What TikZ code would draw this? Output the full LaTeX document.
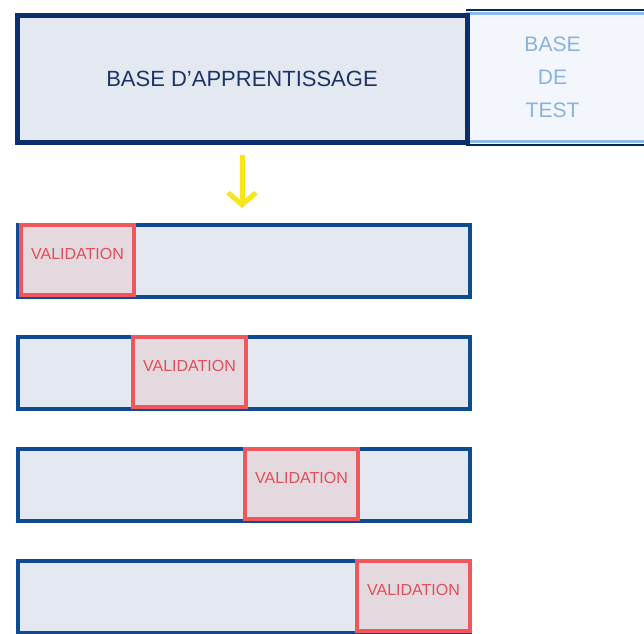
\documentclass[tikz,border=0pt]{standalone}
\usepackage{fontspec}
\setmainfont{Liberation Sans}
\usetikzlibrary{arrows.meta}
\definecolor{learnborder}{HTML}{0A2F6C}
\definecolor{barborder}{HTML}{0F4A94}
\definecolor{barfill}{HTML}{E4E8F1}
\definecolor{testborder}{HTML}{8CBBEB}
\definecolor{testfill}{HTML}{F3F7FD}
\definecolor{testtext}{HTML}{8AB2DE}
\definecolor{learntext}{HTML}{1D3466}
\definecolor{valborder}{HTML}{F0575A}
\definecolor{valfill}{HTML}{E5D9E0}
\definecolor{valtext}{HTML}{E04E5A}
\definecolor{arrowyellow}{HTML}{F8E61C}
\begin{document}
\begin{tikzpicture}[x=1pt,y=-1pt,
		learnbox/.style={draw=learnborder,fill=barfill,line width=5pt,inner sep=0pt,
			minimum width=450pt,minimum height=127pt,anchor=north west},
		testbox/.style={draw=testborder,fill=testfill,line width=3pt,inner sep=0pt,
			minimum width=182pt,minimum height=128pt,anchor=north west},
		barbox/.style={draw=barborder,fill=barfill,line width=4pt,inner sep=0pt,
			minimum width=452pt,minimum height=72pt,anchor=north west},
		valbox/.style={draw=valborder,fill=valfill,line width=4pt,inner sep=0pt,
			minimum width=113pt,minimum height=70pt,anchor=north west},
		valtext/.style={text=valtext,font=\fontsize{16}{19}\selectfont},
		outline/.style={draw=learnborder!80!black,line width=1.5pt}]
	\useasboundingbox (0,0) rectangle (644,633);
	% learning and test sets
	\node[testbox] (test) at (466,12) {};
	\node[learnbox] (learn) at (14.5,12.5) {};
	\draw[outline] ([yshift=2pt]test.north west) -- ([yshift=2pt]test.north east);
	\draw[outline] ([yshift=-2pt]test.south west) -- ([yshift=-2pt]test.south east);
	\node[text=learntext,font=\fontsize{22}{26}\selectfont] (learnlabel) at (learn.center) {BASE D'APPRENTISSAGE};
	\node[text=testtext,font=\fontsize{21}{33}\selectfont,align=center] (testlabel) at ([xshift=-6pt]test.center) {BASE\\DE\\TEST};
	% folds
	\foreach \i in {1,...,4}{
		\node[barbox] (bar\i) at (16,{223+112*(\i-1)}) {};
		\node[valbox] (val\i) at ({19+112*(\i-1)},{223+112*(\i-1)}) {};
		\node[valtext] (vallabel\i) at ([yshift=6pt]val\i.center) {VALIDATION};
	}
	\draw[arrowyellow,line width=5pt,-{Straight Barb[length=12pt,width=28pt]},
		shorten <=10.5pt,shorten >=15pt] (learn.south) -- (learn.south |- bar1.north);
\end{tikzpicture}
\end{document}
